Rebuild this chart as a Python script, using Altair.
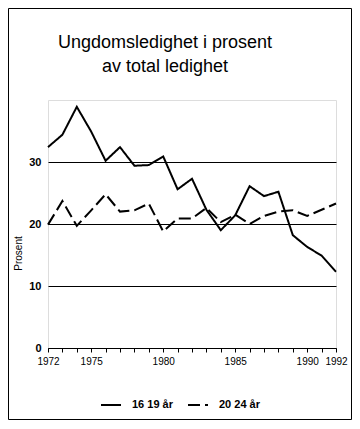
import altair as alt
import pandas as pd

years = list(range(1972, 1993))
youth_16_19 = [32.4, 34.4, 38.9, 34.9, 30.2, 32.4, 29.4, 29.5, 30.9, 25.6, 27.3,
               22.3, 19.0, 21.4, 26.1, 24.5, 25.2, 18.2, 16.3, 14.9, 12.3]
youth_20_24 = [19.9, 23.7, 19.7, 22.2, 24.8, 22.0, 22.2, 23.3, 18.8, 20.9, 20.9,
               22.6, 20.3, 21.5, 20.0, 21.3, 22.0, 22.2, 21.3, 22.3, 23.3]
series_names = ["16 19 år", "20 24 år"]
x_label_years = [1972, 1975, 1980, 1985, 1990, 1992]
y_ticks = [0, 10, 20, 30]
title_lines = ["Ungdomsledighet i prosent", "av total ledighet"]

df = pd.DataFrame({
    "year": years * 2,
    "value": youth_16_19 + youth_20_24,
    "series": [series_names[0]] * len(years) + [series_names[1]] * len(years),
})

FONT = "Liberation Sans"
label_expr = "indexof([" + ",".join(str(y) for y in x_label_years) + "], datum.value) >= 0 ? '' + datum.value : ''"

lines = alt.Chart(df).mark_line(color="black", strokeWidth=2).encode(
    x=alt.X("year:Q",
            scale=alt.Scale(domain=[1972, 1992], nice=False, zero=False),
            axis=alt.Axis(values=years, labelExpr=label_expr, title=None, grid=False,
                          domainColor="black", tickColor="black", tickSize=4,
                          labelFont=FONT, labelFontSize=10, labelColor="black",
                          labelPadding=4, labelFlush=False, labelOverlap=False)),
    y=alt.Y("value:Q",
            scale=alt.Scale(domain=[0, 40], nice=False, zero=True),
            axis=alt.Axis(values=y_ticks, title="Prosent", grid=True, gridColor="black",
                          gridOpacity=1, domain=False, ticks=False, labelPadding=7,
                          labelFont=FONT, labelFontSize=11, labelFontWeight="bold",
                          labelColor="black", titleX=-30, titleY=153,
                          titleFont=FONT, titleFontSize=10, titleFontWeight="normal",
                          titleColor="black", titleAlign="center", titleBaseline="middle")),
    strokeDash=alt.StrokeDash("series:N",
                              scale=alt.Scale(domain=series_names, range=[[1, 0], [12, 5]]),
                              legend=alt.Legend(title=None, orient="none", legendX=52, legendY=294,
                                                direction="horizontal", symbolType="stroke",
                                                symbolSize=400, symbolStrokeWidth=2,
                                                symbolStrokeColor="black", labelOffset=10,
                                                columnPadding=11, labelFont=FONT,
                                                labelFontSize=11, labelFontWeight="bold",
                                                labelColor="black", padding=0)),
)

frame = alt.Chart(pd.DataFrame({"k": [0]})).mark_rect(
    fillOpacity=0, stroke="black", strokeWidth=1
).encode(
    x=alt.value(-39.5), x2=alt.value(303.5), y=alt.value(-91.5), y2=alt.value(319.5)
)

title = alt.Chart(pd.DataFrame({"k": [0]})).mark_text(
    text=title_lines, font=FONT, fontSize=18, fontWeight="normal", color="black",
    align="center", baseline="alphabetic", lineHeight=23.5
).encode(x=alt.value(117), y=alt.value(-52))

chart = alt.layer(frame, title, lines).properties(
    width=288,
    height=248,
    autosize=alt.AutoSizeParams(type="none"),
    padding={"left": 40, "top": 92, "right": 16, "bottom": 72},
).configure_view(strokeWidth=0).configure(font=FONT, background="white")

chart.save("out.html", embed_options={"renderer": "svg", "actions": False})
